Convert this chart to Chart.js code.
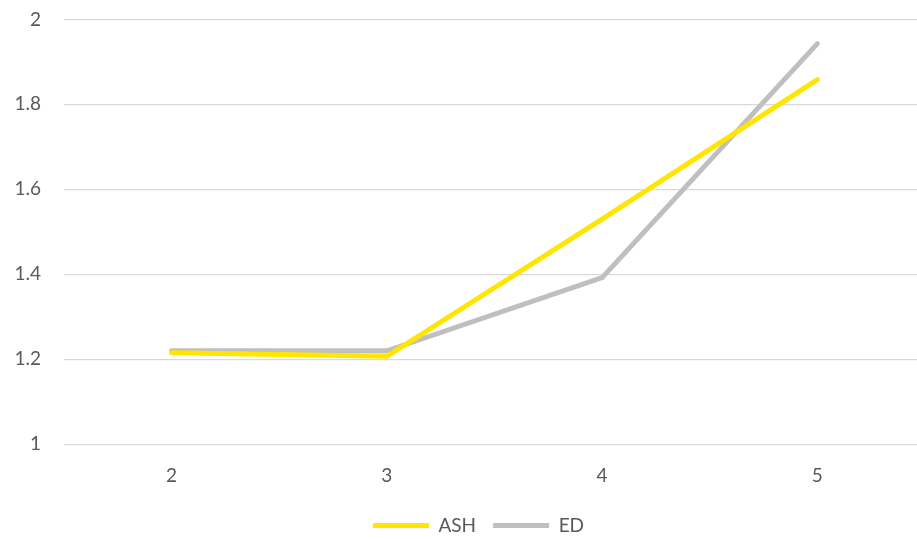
<!DOCTYPE html>
<html>
<head>
<meta charset="utf-8">
<script src="https://cdn.jsdelivr.net/npm/chart.js@4"></script>
<style>
  html, body { margin: 0; padding: 0; background: #fff; overflow: hidden; }
  #wrap { position: absolute; left: 0; top: -15px; width: 925px; height: 560px; }
</style>
</head>
<body>
<div id="wrap"><canvas id="c"></canvas></div>
<script>
const categories = ['2', '3', '4', '5'];
const ashValues = [1.215, 1.207, 1.53, 1.858];
const edValues = [1.22, 1.22, 1.392, 1.943];

const fontFamily = 'Lato';
const textColor = '#595959';

// legend sits a little right of the canvas centre in the original
const legendShift = {
  id: 'legendShift',
  afterLayout(chart) {
    chart.legend.left += 16;
    chart.legend.right += 16;
  }
};

new Chart(document.getElementById('c'), {
  type: 'line',
  data: {
    labels: categories,
    datasets: [
      { label: 'ASH', data: ashValues, borderColor: '#FFE600', backgroundColor: '#FFE600', borderWidth: 5, pointRadius: 0, borderCapStyle: 'round', tension: 0 },
      { label: 'ED', data: edValues, borderColor: '#BFBFBF', backgroundColor: '#BFBFBF', borderWidth: 5, pointRadius: 0, borderCapStyle: 'round', tension: 0 }
    ]
  },
  options: {
    responsive: true,
    maintainAspectRatio: false,
    animation: false,
    layout: { padding: { top: 6, right: 0, bottom: 0, left: 0 } },
    plugins: {
      tooltip: { enabled: false },
      legend: {
        position: 'bottom',
        labels: {
          font: { family: fontFamily, size: 19 },
          color: textColor,
          boxWidth: 56,
          boxHeight: 5,
          padding: 17,
          generateLabels: (chart) => chart.data.datasets.map((d, i) => ({
            text: d.label, fillStyle: d.borderColor, strokeStyle: d.borderColor,
            lineWidth: 0, hidden: false, datasetIndex: i, fontColor: textColor
          }))
        }
      }
    },
    scales: {
      x: {
        offset: true,
        grid: { display: false },
        border: { display: false },
        ticks: { font: { family: fontFamily, size: 19 }, color: textColor, padding: 12 }
      },
      y: {
        min: 1, max: 2,
        afterFit: (axis) => { axis.width = 64; },
        ticks: {
          stepSize: 0.2,
          font: { family: fontFamily, size: 19 },
          color: textColor,
          padding: 23,
          callback: (v) => String(+v.toFixed(1))
        },
        grid: { color: '#D9D9D9', lineWidth: 1.3, drawTicks: false },
        border: { display: false }
      }
    }
  },
  plugins: [legendShift]
});
</script>
</body>
</html>
